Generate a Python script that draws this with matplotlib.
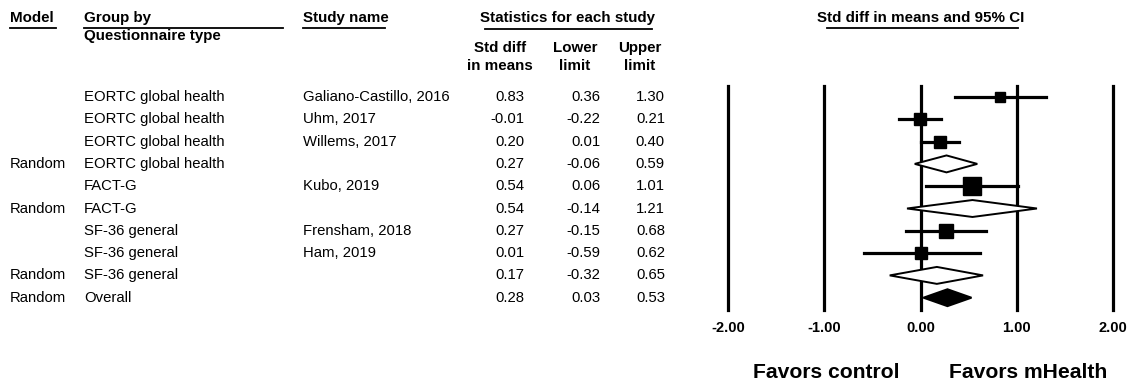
import matplotlib.pyplot as plt
from matplotlib.transforms import blended_transform_factory
from matplotlib.patches import Polygon

plt.rcParams['font.family'] = ['Liberation Sans', 'DejaVu Sans']

# rows of the forest plot
models = ["", "", "", "Random", "", "Random", "", "", "Random", "Random"]
groups = ["EORTC global health", "EORTC global health", "EORTC global health",
          "EORTC global health", "FACT-G", "FACT-G", "SF-36 general",
          "SF-36 general", "SF-36 general", "Overall"]
studies = ["Galiano-Castillo, 2016", "Uhm, 2017", "Willems, 2017", "",
           "Kubo, 2019", "", "Frensham, 2018", "Ham, 2019", "", ""]
smd = [0.83, -0.01, 0.20, 0.27, 0.54, 0.54, 0.27, 0.01, 0.17, 0.28]
lower = [0.36, -0.22, 0.01, -0.06, 0.06, -0.14, -0.15, -0.59, -0.32, 0.03]
upper = [1.30, 0.21, 0.40, 0.59, 1.01, 1.21, 0.68, 0.62, 0.65, 0.53]
# relative study weight (square size), 0 = summary row
weights = [7.0, 8.0, 8.0, 0, 13.0, 0, 10.0, 8.0, 0, 0]
xticks = [-2, -1, 0, 1, 2]

W, H = 1129, 388
fig = plt.figure(figsize=(W / 100, H / 100), dpi=100)

# forest axes: x -2..2 -> px 728..1113, rows from px 86 to 310
left, right, top, bot = 728, 1113, 86, 310
ax = fig.add_axes([left / W, 1 - bot / H, (right - left) / W, (bot - top) / H])
ax.set_xlim(-2, 2)
row0, step = 97, 22.3
ax.set_ylim((bot - row0) / step, (top - row0) / step)
for s in ax.spines.values():
    s.set_visible(False)
ax.set_yticks([])
ax.set_xticks(xticks)
ax.set_xticklabels([f"{t:.2f}" for t in xticks], fontweight='bold', fontsize=10.5)
ax.tick_params(axis='x', length=0, pad=8)
for t in xticks:
    ax.axvline(t, color='black', lw=2.3, zorder=1, clip_on=False)

for i in range(len(smd)):
    if weights[i] > 0:
        ax.plot([lower[i], upper[i]], [i, i], color='black', lw=2.3, zorder=2)
        ax.plot(smd[i], i, marker='s', ms=weights[i], color='black', zorder=3)
    else:
        overall = groups[i] == "Overall"
        h = 0.38
        dia = Polygon([[lower[i], i], [smd[i], i - h], [upper[i], i], [smd[i], i + h]],
                      closed=True, facecolor='black' if overall else 'white',
                      edgecolor='black', lw=1.4, zorder=4, clip_on=False)
        ax.add_patch(dia)

# table text, x in figure pixels, y in row units
tr = blended_transform_factory(fig.transFigure, ax.transData)
fs = 10.7
for i in range(len(smd)):
    ax.text(10 / W, i, models[i], transform=tr, fontsize=fs, va='center')
    ax.text(84 / W, i, groups[i], transform=tr, fontsize=fs, va='center')
    ax.text(303 / W, i, studies[i], transform=tr, fontsize=fs, va='center')
    ax.text(524 / W, i, f"{smd[i]:.2f}", transform=tr, fontsize=fs, va='center', ha='right')
    ax.text(600 / W, i, f"{lower[i]:.2f}", transform=tr, fontsize=fs, va='center', ha='right')
    ax.text(665 / W, i, f"{upper[i]:.2f}", transform=tr, fontsize=fs, va='center', ha='right')

# headers in pixel coordinates
def ftext(x, y, s, **kw):
    fig.text(x / W, 1 - y / H, s, fontsize=10.9, fontweight='bold', va='center', **kw)

def uline(x0, x1, y):
    fig.add_artist(plt.Line2D([x0 / W, x1 / W], [1 - y / H, 1 - y / H],
                              color='black', lw=1.3))

ftext(10, 18, "Model")
uline(10, 56, 28)
ftext(84, 18, "Group by")
ftext(84, 36, "Questionnaire type")
uline(84, 283, 28)
ftext(303, 18, "Study name")
uline(303, 385, 28)
ftext(568, 18, "Statistics for each study", ha='center')
uline(485, 652, 29)
ftext(500, 48, "Std diff", ha='center')
ftext(500, 66, "in means", ha='center')
ftext(575, 48, "Lower", ha='center')
ftext(575, 66, "limit", ha='center')
ftext(640, 48, "Upper", ha='center')
ftext(640, 66, "limit", ha='center')
ftext(921, 18, "Std diff in means and 95% CI", ha='center')
uline(827, 1018, 28)

fig.text(826 / W, 1 - 373 / H, "Favors control", fontsize=15.2, fontweight='bold',
         ha='center', va='center')
fig.text(1028 / W, 1 - 373 / H, "Favors mHealth", fontsize=15.2, fontweight='bold',
         ha='center', va='center')

fig.savefig("out.png", dpi=100, facecolor='white')
